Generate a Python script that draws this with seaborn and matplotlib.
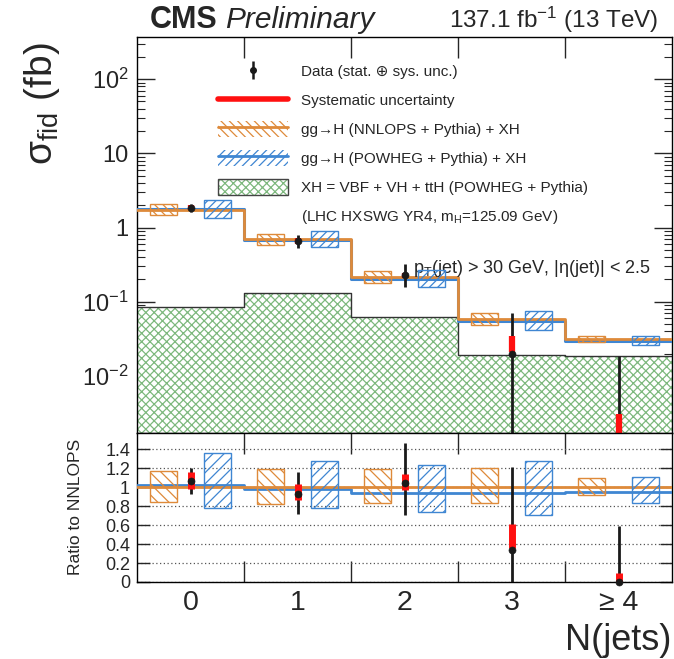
import numpy as np
import matplotlib
matplotlib.use("Agg")
import matplotlib.pyplot as plt
from matplotlib.patches import Patch
from matplotlib.lines import Line2D
from matplotlib.ticker import FixedLocator, FixedFormatter, LogLocator, NullFormatter, FuncFormatter
import seaborn as sns

# ---- data ----
categories = ["0", "1", "2", "3", "\u2265 4"]

# top panel, sigma_fid in fb
nnlops = [1.75, 0.70, 0.217, 0.058, 0.0316]
powheg = [1.78, 0.686, 0.204, 0.0545, 0.030]
xh = [0.085, 0.131, 0.062, 0.019, 0.0185]
nnlops_lo = [1.47, 0.574, 0.180, 0.048, 0.0289]
nnlops_hi = [2.05, 0.830, 0.258, 0.0695, 0.0346]
powheg_lo = [1.36, 0.54, 0.160, 0.041, 0.026]
powheg_hi = [2.37, 0.89, 0.267, 0.075, 0.0348]
data = [1.83, 0.66, 0.23, 0.0198, 0.0]
data_lo = [1.62, 0.53, 0.157, 0.0, 0.0]
data_hi = [2.08, 0.80, 0.32, 0.0697, 0.0186]
sys_lo = [1.71, 0.605, 0.21, 0.021, 0.0]
sys_hi = [2.03, 0.72, 0.247, 0.035, 0.0031]

# ratio panel (to NNLOPS)
r_nnlops = [1.0, 1.0, 1.0, 1.0, 1.0]
r_powheg = [1.02, 0.98, 0.94, 0.94, 0.95]
r_nnlops_lo = [0.84, 0.82, 0.83, 0.83, 0.914]
r_nnlops_hi = [1.17, 1.186, 1.19, 1.196, 1.096]
r_powheg_lo = [0.775, 0.775, 0.74, 0.707, 0.83]
r_powheg_hi = [1.357, 1.275, 1.23, 1.275, 1.107]
r_data = [1.06, 0.93, 1.04, 0.34, 0.0]
r_data_lo = [0.93, 0.72, 0.71, 0.0, 0.0]
r_data_hi = [1.20, 1.16, 1.46, 1.21, 0.59]
r_sys_lo = [0.975, 0.864, 0.97, 0.357, 0.0]
r_sys_hi = [1.16, 1.03, 1.14, 0.607, 0.09]

orange = "#DE8A3A"
blue = "#3F86D2"
green = "#7DB87D"
red = "#FF1010"

sns.set_theme(style="ticks")
plt.rcParams['font.family'] = ['Liberation Sans', 'DejaVu Sans']
plt.rcParams['mathtext.fontset'] = 'custom'
plt.rcParams['mathtext.rm'] = 'Liberation Sans'
plt.rcParams['mathtext.it'] = 'Liberation Sans:italic'
plt.rcParams['mathtext.bf'] = 'Liberation Sans:bold'
plt.rcParams['hatch.linewidth'] = 0.9
plt.rcParams['axes.linewidth'] = 1.0

centers = np.arange(len(categories))
edges = np.arange(-0.5, len(categories) + 0.5, 1.0)


def step(ax, vals, **kw):
    sns.lineplot(x=edges, y=np.append(vals, vals[-1]), drawstyle="steps-post",
                 ax=ax, legend=False, **kw)


def boxes(ax, lo, hi, offset, color, hatch):
    lo = np.array(lo); hi = np.array(hi)
    ax.bar(centers + offset, hi - lo, bottom=lo, width=0.25, facecolor="none",
           edgecolor=color, hatch=hatch, linewidth=1.0, zorder=4)


fig = plt.figure(figsize=(6.74, 6.59), dpi=100)
ax = fig.add_axes([137 / 674, 1 - 433 / 659, 535 / 674, 396 / 659])
ax2 = fig.add_axes([137 / 674, 1 - 582 / 659, 535 / 674, 149 / 659], sharex=ax)

# ---- top panel ----
ax.set_yscale("log")
ymin, ymax = 1.7e-3, 370
ax.fill_between(edges, np.append(xh, xh[-1]), ymin * 0.5, step="post",
                facecolor="white", edgecolor=green, hatch="xxxx", linewidth=0, zorder=1)
step(ax, xh, color="#333333", linewidth=1.0, zorder=2)
step(ax, powheg, color=blue, linewidth=2.2, zorder=3)
step(ax, nnlops, color=orange, linewidth=2.0, zorder=3)
boxes(ax, nnlops_lo, nnlops_hi, -0.25, orange, "\\\\\\\\")
boxes(ax, powheg_lo, powheg_hi, 0.25, blue, "////")

ax.vlines(centers, np.maximum(data_lo, 1e-5), data_hi, color="k", linewidth=2.0, zorder=5)
ax.vlines(centers, np.maximum(sys_lo, 1e-5), sys_hi, color=red, linewidth=4.5, zorder=6)
pos = np.array(data) > 0
sns.scatterplot(x=centers[pos], y=np.array(data)[pos], color="k", s=26, edgecolor="k",
                zorder=7, ax=ax, legend=False)

ax.set_xlim(-0.5, len(categories) - 0.5)
ax.set_ylim(ymin, ymax)
ax.yaxis.set_major_locator(FixedLocator([1e-2, 1e-1, 1, 10, 100]))
ax.yaxis.set_major_formatter(FixedFormatter(["10$^{-2}$", "10$^{-1}$", "1", "10", "10$^{2}$"]))
ax.yaxis.set_minor_locator(LogLocator(base=10, subs=np.arange(2, 10)))
ax.yaxis.set_minor_formatter(NullFormatter())
ax.tick_params(axis="y", which="major", direction="in", length=13, width=1.0,
               left=True, right=True, labelsize=17, pad=6)
ax.tick_params(axis="y", which="minor", direction="in", length=6, width=0.8,
               left=True, right=True)
ax.set_xticks(centers)
ax.set_xticks(edges[1:-1], minor=True)
ax.tick_params(axis="x", which="major", length=0, labelbottom=False)
ax.tick_params(axis="x", which="minor", direction="in", length=15, width=1.0,
               top=True, bottom=True)
ax.set_ylabel("")
ax.set_xlabel("")

# legend
h_data = (Line2D([], [], color="k", marker="|", ms=13, mew=1.8, ls="none"),
          Line2D([], [], color="k", marker="o", ms=4, ls="none"))
h_sys = Line2D([], [], color=red, lw=4)
h_nnlops = (Patch(facecolor="none", edgecolor=orange, hatch="\\\\\\\\", lw=0),
            Line2D([], [], color=orange, lw=2))
h_powheg = (Patch(facecolor="none", edgecolor=blue, hatch="////", lw=0),
            Line2D([], [], color=blue, lw=2))
h_xh = (Patch(facecolor="white", edgecolor=green, hatch="xxxx", lw=0),
        Patch(facecolor="none", edgecolor="#444444", lw=1.0))
h_none = Line2D([], [], color="none")
leg = ax.legend([h_data, h_sys, h_nnlops, h_powheg, h_xh, h_none],
                ["Data (stat. \u2295 sys. unc.)", "Systematic uncertainty",
                 "gg\u2192H (NNLOPS + Pythia) + XH", "gg\u2192H (POWHEG + Pythia) + XH",
                 "XH = VBF + VH + ttH (POWHEG + Pythia)",
                 "(LHC HXSWG YR4, m$_{\\rm H}$=125.09 GeV)"],
                loc="upper left", bbox_to_anchor=(81 / 535, (433 - 63) / 396),
                frameon=False, fontsize=11, handlelength=4.6, handleheight=1.3,
                handletextpad=0.85, labelspacing=0.8, borderpad=0, borderaxespad=0)

ax.text(0.516, 0.415, "p$_{\\rm T}$(jet) > 30 GeV, |\u03b7(jet)| < 2.5",
        transform=ax.transAxes, fontsize=13, ha="left", va="center")

# ---- ratio panel ----
step(ax2, r_powheg, color=blue, linewidth=2.0, zorder=3)
step(ax2, r_nnlops, color=orange, linewidth=2.0, zorder=3)
boxes(ax2, r_nnlops_lo, r_nnlops_hi, -0.25, orange, "\\\\\\")
boxes(ax2, r_powheg_lo, r_powheg_hi, 0.25, blue, "///")
ax2.vlines(centers, r_data_lo, r_data_hi, color="k", linewidth=2.0, zorder=5)
ax2.vlines(centers, r_sys_lo, r_sys_hi, color=red, linewidth=5, zorder=6)
sns.scatterplot(x=centers, y=r_data, color="k", s=26, edgecolor="k", zorder=7,
                ax=ax2, legend=False, clip_on=False)

ax2.set_ylim(0, 1.57)
ax2.yaxis.set_major_locator(FixedLocator(np.arange(0, 1.41, 0.2)))
ax2.yaxis.set_major_formatter(FuncFormatter(lambda v, p: f"{v:g}"))
ax2.yaxis.grid(True, linestyle=(0, (1, 2)), color="#555555", linewidth=0.9)
ax2.set_axisbelow(True)
ax2.tick_params(axis="y", which="major", direction="in", length=9, width=1.0,
                left=True, right=True, labelsize=13, pad=5)
ax2.set_xticks(centers)
ax2.set_xticklabels(categories)
ax2.set_xticks(edges[1:-1], minor=True)
ax2.tick_params(axis="x", which="major", length=0, labelsize=20.5, pad=6)
ax2.tick_params(axis="x", which="minor", direction="in", length=15, width=1.0,
                top=True, bottom=True)
ax2.set_xlim(-0.5, len(categories) - 0.5)
ax2.set_ylabel("")
ax2.set_xlabel("")

for a in (ax, ax2):
    for s in a.spines.values():
        s.set_color("black")

# ---- titles / axis labels ----
fig.text(150 / 674, 1 - 28 / 659, "CMS", fontsize=22, fontweight="bold", va="baseline")
fig.text(225 / 674, 1 - 28 / 659, "Preliminary", fontsize=21.5, style="italic", va="baseline")
fig.text(658 / 674, 1 - 28 / 659, "137.1 fb$^{-1}$ (13 TeV)", fontsize=17.5,
         ha="right", va="baseline")
fig.text(42 / 674, 1 - 104 / 659, "\u03c3$_{\\rm fid}$ (fb)", fontsize=28,
         rotation=90, ha="center", va="center")
fig.text(75 / 674, 1 - 507 / 659, "Ratio to NNLOPS", fontsize=12.5,
         rotation=90, ha="center", va="center")
fig.text(671 / 674, 1 - 640 / 659, "N(jets)", fontsize=26, ha="right", va="center")

fig.savefig("out.png", dpi=100)
